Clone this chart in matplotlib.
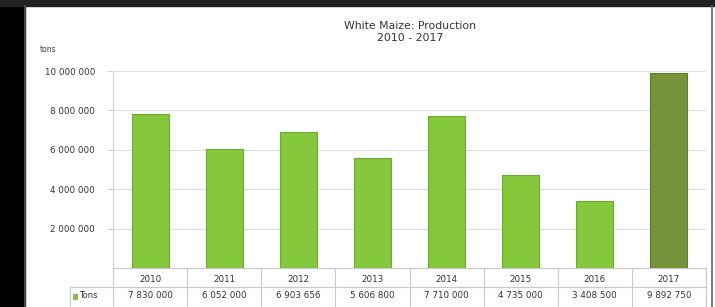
import numpy as np
import matplotlib.pyplot as plt
from matplotlib.patches import Rectangle
from matplotlib.lines import Line2D

# data
years = ['2010', '2011', '2012', '2013', '2014', '2015', '2016', '2017']
tons = [7830000, 6052000, 6903656, 5606800, 7710000, 4735000, 3408500, 9892750]
yticks = [2000000, 4000000, 6000000, 8000000, 10000000]
title = 'White Maize: Production\n2010 - 2017'

W, H = 715, 307
fig = plt.figure(figsize=(W / 100, H / 100), dpi=100)
fig.patch.set_facecolor('white')

def fx(px):
    return px / W

def fy(py):
    return 1 - py / H

# black strip on the left (scan edge) and top
fig.patches.append(Rectangle((0, 0), fx(25), 1, transform=fig.transFigure,
                             color='black', zorder=0))
fig.patches.append(Rectangle((0, fy(6)), 1, 6 / H, transform=fig.transFigure,
                             color='#222222', zorder=0))
# chart border
fig.lines.append(Line2D([fx(25), fx(25)], [0, fy(6)], transform=fig.transFigure,
                        color='#555555', lw=1.2))
fig.lines.append(Line2D([fx(712), fx(712)], [0, fy(6)], transform=fig.transFigure,
                        color='#666666', lw=1.2))

# plot area
left, right, top, bottom = 113, 706, 71, 268
ax = fig.add_axes([fx(left), fy(bottom), fx(right - left), (bottom - top) / H])
x = np.arange(len(years))
colors = ['#86c83c'] * (len(years) - 1) + ['#76923a']
edges = ['#6da832'] * (len(years) - 1) + ['#5f7a2c']
ax.bar(x, tons, width=0.5, color=colors, edgecolor=edges, linewidth=0.8, zorder=3)
ax.set_xlim(-0.5, len(years) - 0.5)
ax.set_ylim(0, 10000000)
ax.set_yticks(yticks)
ax.set_yticklabels(['{:,}'.format(v).replace(',', ' ') for v in yticks],
                   fontsize=6.3, color='#333333')
ax.yaxis.grid(True, color='#dcdcdc', lw=0.8, zorder=0)
ax.tick_params(axis='y', length=4, direction='out', color='#d0d0d0', pad=9)
ax.set_xticks([])
for s in ['top', 'right', 'bottom']:
    ax.spines[s].set_visible(False)
ax.spines['left'].set_color('#d0d0d0')

fig.text(fx(40), fy(50), 'tons', fontsize=5.5, color='#444444', va='center')
fig.text(fx(410), fy(32), title, fontsize=7.8, color='#333333',
         ha='center', va='center', linespacing=1.35)

# data table below the axis
col_w = (right - left) / len(years)
row1, row2, row3 = 268, 287, 306
line_kw = dict(transform=fig.transFigure, color='#c8c8c8', lw=0.8)
fig.lines.append(Line2D([fx(left), fx(right)], [fy(row1), fy(row1)], **line_kw))
fig.lines.append(Line2D([fx(70), fx(right)], [fy(row2), fy(row2)], **line_kw))
for i in range(len(years) + 1):
    xx = left + i * col_w
    fig.lines.append(Line2D([fx(xx), fx(xx)], [fy(row1), fy(row3)], **line_kw))
fig.lines.append(Line2D([fx(70), fx(70)], [fy(row2), fy(row3)], **line_kw))

for i, (yr, v) in enumerate(zip(years, tons)):
    cx = left + (i + 0.5) * col_w
    fig.text(fx(cx), fy(279), yr, fontsize=6.3, color='#333333',
             ha='center', va='center')
    fig.text(fx(cx), fy(296), '{:,}'.format(v).replace(',', ' '),
             fontsize=6.3, color='#333333', ha='center', va='center')

fig.patches.append(Rectangle((fx(73), fy(299)), 4 / W, 5 / H, transform=fig.transFigure,
                             facecolor='#86c83c', edgecolor='#6da832', lw=0.5))
fig.text(fx(79), fy(296), 'Tons', fontsize=6, color='#333333', va='center')

fig.savefig('out.png', dpi=100)
